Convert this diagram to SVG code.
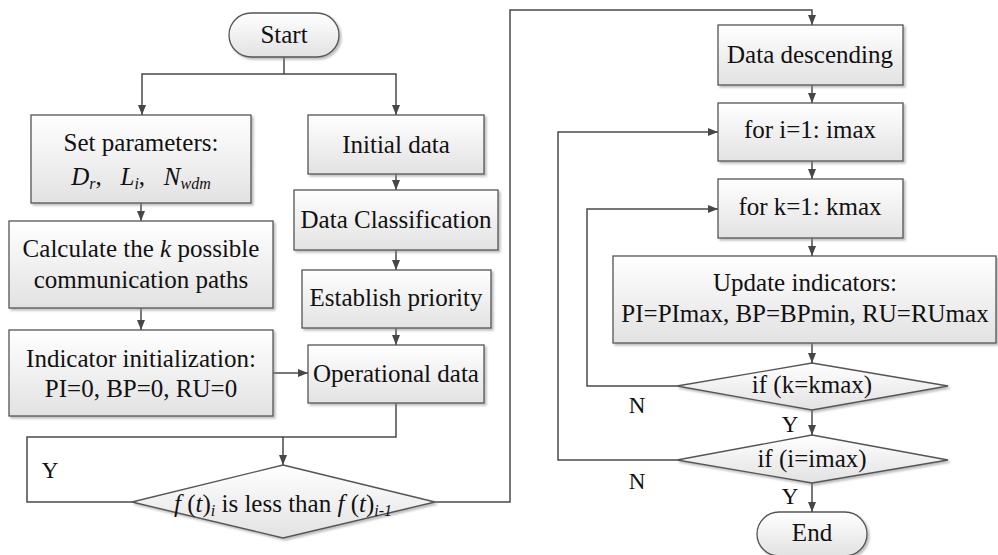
<svg xmlns="http://www.w3.org/2000/svg" width="998" height="555" viewBox="0 0 998 555">
<defs>
<linearGradient id="g" x1="0" y1="0" x2="0" y2="1">
<stop offset="0" stop-color="#ffffff"/>
<stop offset="1" stop-color="#e2e2e2"/>
</linearGradient>
<filter id="sh" x="-5%" y="-5%" width="115%" height="125%">
<feDropShadow dx="2" dy="2" stdDeviation="1" flood-color="#888" flood-opacity="0.55"/>
</filter>
<marker id="ar" markerWidth="10" markerHeight="10" refX="10" refY="5" orient="auto" markerUnits="userSpaceOnUse">
<path d="M0,1 L10,5 L0,9 Z" fill="#474747"/>
</marker>
<style>
.n{fill:url(#g);stroke:#555;stroke-width:1.3;filter:url(#sh)}
.t{font-family:"Liberation Serif","Times New Roman",serif;font-size:25px;fill:#111;text-anchor:middle}
.l{font-family:"Liberation Serif","Times New Roman",serif;font-size:23px;fill:#111;text-anchor:middle}
.c{fill:none;stroke:#4a4a4a;stroke-width:1.5}
.i{font-style:italic}
</style>
</defs>
<rect width="998" height="555" fill="#fff"/>
<g id="connectors">
<path class="c" d="M284,57 V74 H142 V115" marker-end="url(#ar)"/>
<path class="c" d="M284,74 H396 V115" marker-end="url(#ar)"/>
<path class="c" d="M141,203 V221" marker-end="url(#ar)"/>
<path class="c" d="M141,308 V330" marker-end="url(#ar)"/>
<path class="c" d="M396,174 V190" marker-end="url(#ar)"/>
<path class="c" d="M396,250 V270" marker-end="url(#ar)"/>
<path class="c" d="M396,328 V345" marker-end="url(#ar)"/>
<path class="c" d="M273,373 H308" marker-end="url(#ar)"/>
<path class="c" d="M396,403 V437 H283 V465" marker-end="url(#ar)"/>
<path class="c" d="M132,502 H27 V437 H283"/>
<path class="c" d="M435,502 H510 V10 H812 V25" marker-end="url(#ar)"/>
<path class="c" d="M812,85 V103" marker-end="url(#ar)"/>
<path class="c" d="M812,161 V179" marker-end="url(#ar)"/>
<path class="c" d="M812,238 V256" marker-end="url(#ar)"/>
<path class="c" d="M812,343 V363" marker-end="url(#ar)"/>
<path class="c" d="M812,410 V435" marker-end="url(#ar)"/>
<path class="c" d="M812,483 V512" marker-end="url(#ar)"/>
<path class="c" d="M677,386 H587 V209 H718" marker-end="url(#ar)"/>
<path class="c" d="M677,460 H558 V132 H718" marker-end="url(#ar)"/>
<text class="l" x="50" y="478">Y</text>
<text class="l" x="790" y="432">Y</text>
<text class="l" x="790" y="504">Y</text>
<text class="l" x="637" y="413">N</text>
<text class="l" x="637" y="489">N</text>
</g>
<g id="start">
<rect class="n" x="229" y="13" width="110" height="44" rx="22" ry="22"/>
<text class="t" x="284" y="43">Start</text>
</g>
<g id="setparams">
<rect class="n" x="31" y="115" width="220" height="88"/>
<text class="t" x="141" y="151">Set parameters:</text>
<text class="t" x="141" y="185"><tspan class="i">D</tspan><tspan class="i" font-size="16" dy="4">r</tspan><tspan dy="-4">,&#160;&#160;&#160;</tspan><tspan class="i">L</tspan><tspan class="i" font-size="16" dy="4">i</tspan><tspan dy="-4">,&#160;&#160;&#160;</tspan><tspan class="i">N</tspan><tspan class="i" font-size="16" dy="4">wdm</tspan></text>
</g>
<g id="calc">
<rect class="n" x="9" y="221" width="264" height="87"/>
<text class="t" x="141" y="257">Calculate the <tspan class="i">k</tspan> possible</text>
<text class="t" x="141" y="288">communication paths</text>
</g>
<g id="indinit">
<rect class="n" x="9" y="330" width="264" height="86"/>
<text class="t" x="141" y="367">Indicator initialization:</text>
<text class="t" x="141" y="397">PI=0, BP=0, RU=0</text>
</g>
<g id="initial">
<rect class="n" x="308" y="115" width="176" height="59"/>
<text class="t" x="396" y="153">Initial data</text>
</g>
<g id="classif">
<rect class="n" x="294" y="190" width="204" height="60"/>
<text class="t" x="396" y="228">Data Classification</text>
</g>
<g id="priority">
<rect class="n" x="302" y="270" width="189" height="58"/>
<text class="t" x="396" y="306">Establish priority</text>
</g>
<g id="operational">
<rect class="n" x="308" y="345" width="176" height="58"/>
<text class="t" x="396" y="382">Operational data</text>
</g>
<g id="cond">
<polygon class="n" points="283,465 435,502 283,538 132,502"/>
<text class="t" x="283" y="512"><tspan class="i">f</tspan> (<tspan class="i">t</tspan>)<tspan class="i" font-size="16" dy="4">i</tspan><tspan dy="-4"> is less than </tspan><tspan class="i">f</tspan> (<tspan class="i">t</tspan>)<tspan class="i" font-size="16" dy="4">i-1</tspan></text>
</g>
<g id="descending">
<rect class="n" x="718" y="25" width="185" height="60"/>
<text class="t" x="810" y="63">Data descending</text>
</g>
<g id="fori">
<rect class="n" x="718" y="103" width="185" height="58"/>
<text class="t" x="810" y="138">for i=1: imax</text>
</g>
<g id="fork">
<rect class="n" x="718" y="179" width="185" height="59"/>
<text class="t" x="810" y="215">for k=1: kmax</text>
</g>
<g id="update">
<rect class="n" x="613" y="256" width="383" height="87"/>
<text class="t" x="805" y="291">Update indicators:</text>
<text class="t" x="805" y="322">PI=PImax, BP=BPmin, RU=RUmax</text>
</g>
<g id="ifk">
<polygon class="n" points="812,363 948,386 812,410 677,386"/>
<text class="t" x="812" y="393">if (k=kmax)</text>
</g>
<g id="ifi">
<polygon class="n" points="812,435 948,460 812,483 677,460"/>
<text class="t" x="812" y="467">if (i=imax)</text>
</g>
<g id="end">
<rect class="n" x="757" y="512" width="110" height="44" rx="22" ry="22"/>
<text class="t" x="812" y="541">End</text>
</g>
</svg>
